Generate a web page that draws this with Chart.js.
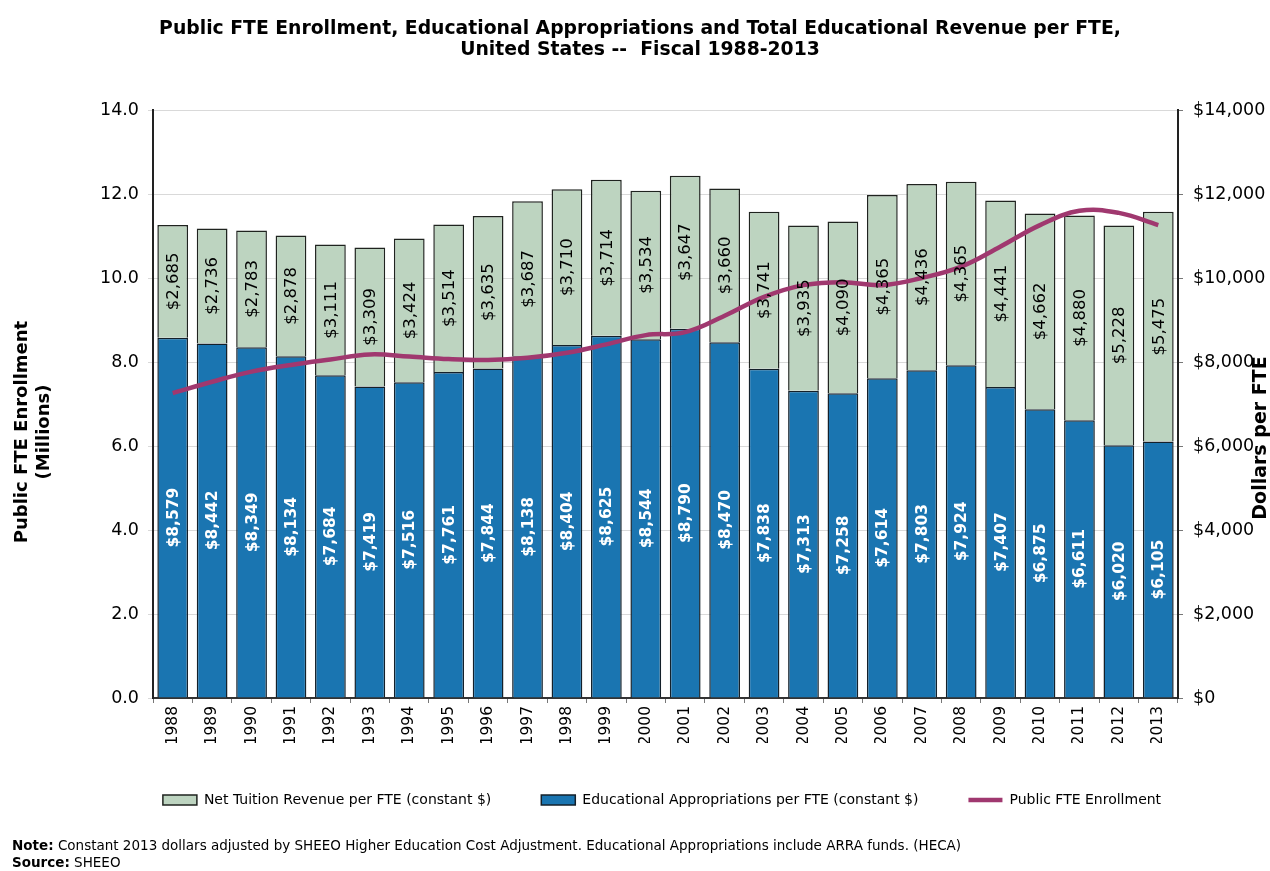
<!DOCTYPE html>
<html>
<head>
<meta charset="utf-8">
<title>Public FTE Enrollment and Educational Revenue</title>
<script src="https://cdn.jsdelivr.net/npm/chart.js@4/dist/chart.umd.min.js"></script>
<style>
    body { margin: 0; background: #fff; font-family: "DejaVu Sans", sans-serif; }
    #wrap { position: relative; width: 1270px; height: 871px; }
    .note { position: absolute; left: 12px; font-size: 13.5px; color: #000; white-space: nowrap; }
</style>
</head>
<body>
<div id="wrap">
    <canvas id="fteChart" width="1270" height="871"></canvas>
    <div class="note" style="top:837px"><b>Note:</b> Constant 2013 dollars adjusted by SHEEO Higher Education Cost Adjustment. Educational Appropriations include ARRA funds. (HECA)</div>
    <div class="note" style="top:854px"><b>Source:</b> SHEEO</div>
</div>
<script>
const years = ['1988', '1989', '1990', '1991', '1992', '1993', '1994', '1995', '1996', '1997', '1998', '1999', '2000',
    '2001', '2002', '2003', '2004', '2005', '2006', '2007', '2008', '2009', '2010', '2011', '2012', '2013'];
const appropriations = [8579, 8442, 8349, 8134, 7684, 7419, 7516, 7761, 7844, 8138, 8404, 8625, 8544,
    8790, 8470, 7838, 7313, 7258, 7614, 7803, 7924, 7407, 6875, 6611, 6020, 6105];
const tuition = [2685, 2736, 2783, 2878, 3111, 3309, 3424, 3514, 3635, 3687, 3710, 3714, 3534,
    3647, 3660, 3741, 3935, 4090, 4365, 4436, 4365, 4441, 4662, 4880, 5228, 5475];
// enrollment in millions
const enrollment = [7.26, 7.53, 7.77, 7.93, 8.06, 8.18, 8.13, 8.07, 8.05, 8.1, 8.22, 8.42, 8.64,
    8.71, 9.1, 9.55, 9.83, 9.9, 9.83, 10.0, 10.27, 10.75, 11.26, 11.6, 11.55, 11.26];

const titleLines = ['Public FTE Enrollment, Educational Appropriations and Total Educational Revenue per FTE,',
    'United States --  Fiscal 1988-2013'];
const fontFamily = '"DejaVu Sans", sans-serif';

const money = v => '$' + Number(v).toLocaleString('en-US');

// title, axis titles and the value labels inside the bars
const textPlugin = {
    id: 'texts',
    afterDatasetsDraw(chart) {
        const ctx = chart.ctx;
        ctx.save();
        ctx.textAlign = 'center';
        ctx.textBaseline = 'middle';
        [0, 1].forEach(di => {
            const meta = chart.getDatasetMeta(di);
            const values = chart.data.datasets[di].data;
            ctx.fillStyle = di === 0 ? '#fff' : '#000';
            ctx.font = di === 0 ? 'bold 15.5px ' + fontFamily : '16.5px ' + fontFamily;
            meta.data.forEach((bar, i) => {
                const cy = (bar.y + bar.base) / 2;
                ctx.save();
                ctx.translate(bar.x, cy);
                ctx.rotate(-Math.PI / 2);
                ctx.fillText(money(values[i]), 0, 1);
                ctx.restore();
            });
        });
        ctx.restore();
    },
    afterDraw(chart) {
        const ctx = chart.ctx;
        ctx.save();
        ctx.fillStyle = '#000';
        ctx.textAlign = 'center';
        ctx.textBaseline = 'middle';
        ctx.font = 'bold 18.8px ' + fontFamily;
        ctx.fillText(titleLines[0], 640, 29);
        ctx.fillText(titleLines[1], 640, 50);

        ctx.font = 'bold 18px ' + fontFamily;
        ctx.save();
        ctx.translate(22, 432);
        ctx.rotate(-Math.PI / 2);
        ctx.fillText('Public FTE Enrollment', 0, 0);
        ctx.fillText('(Millions)', 0, 22);
        ctx.restore();

        ctx.save();
        ctx.translate(1261, 438);
        ctx.rotate(-Math.PI / 2);
        ctx.font = 'bold 19px ' + fontFamily;
        ctx.fillText('Dollars per FTE', 0, 0);
        ctx.restore();
        ctx.restore();
    }
};

const legendRank = [1, 0, 2];

new Chart(document.getElementById('fteChart'), {
    type: 'bar',
    data: {
        labels: years,
        datasets: [{
            label: 'Educational Appropriations per FTE (constant $)',
            data: appropriations,
            backgroundColor: '#1a75b1',
            borderColor: '#14202a',
            borderWidth: 1.5,
            yAxisID: 'y2',
            stack: 'rev',
            order: 1,
            barPercentage: 0.78,
            categoryPercentage: 1
        }, {
            label: 'Net Tuition Revenue per FTE (constant $)',
            data: tuition,
            backgroundColor: '#bdd4c0',
            borderColor: '#1f231f',
            borderWidth: 1.5,
            yAxisID: 'y2',
            stack: 'rev',
            order: 1,
            barPercentage: 0.78,
            categoryPercentage: 1
        }, {
            type: 'line',
            label: 'Public FTE Enrollment',
            data: enrollment,
            borderColor: '#a0386f',
            backgroundColor: '#a0386f',
            borderWidth: 4.5,
            pointRadius: 0,
            tension: 0.4,
            yAxisID: 'y',
            order: 0
        }]
    },
    options: {
        responsive: false,
        animation: false,
        layout: { padding: { top: 110, left: 54, right: 0, bottom: 54 } },
        plugins: {
            tooltip: { enabled: false },
            legend: {
                position: 'bottom',
                labels: {
                    color: '#000',
                    font: { family: fontFamily, size: 14 },
                    usePointStyle: true,
                    pointStyleWidth: 34,
                    boxHeight: 10,
                    padding: 50,
                    generateLabels: chart => Chart.defaults.plugins.legend.labels.generateLabels(chart).map(l => {
                        l.pointStyle = l.datasetIndex === 2 ? 'line' : 'rect';
                        return l;
                    }),
                    sort: (a, b) => legendRank[a.datasetIndex] - legendRank[b.datasetIndex]
                }
            }
        },
        scales: {
            x: {
                stacked: true,
                grid: { display: true, drawOnChartArea: false, color: '#777', tickLength: 5, offset: true },
                border: { color: '#333', width: 2 },
                ticks: { color: '#000', minRotation: 90, maxRotation: 90, font: { family: fontFamily, size: 15.5 } },
                afterFit: s => { s.height = 45; }
            },
            y: {
                position: 'left',
                min: 0,
                max: 14,
                grid: { color: '#d9d9d9', tickLength: 5 },
                border: { color: '#222', width: 2 },
                ticks: {
                    stepSize: 2,
                    color: '#000',
                    padding: 9,
                    font: { family: fontFamily, size: 17.5 },
                    callback: v => v.toFixed(1)
                },
                afterFit: s => { s.width = 99; }
            },
            y2: {
                position: 'right',
                stacked: true,
                min: 0,
                max: 14000,
                grid: { drawOnChartArea: false, color: '#777', tickLength: 5 },
                border: { color: '#222', width: 2 },
                ticks: {
                    stepSize: 2000,
                    color: '#000',
                    padding: 10,
                    font: { family: fontFamily, size: 17.5 },
                    callback: v => money(v)
                },
                afterFit: s => { s.width = 92; }
            }
        }
    },
    plugins: [textPlugin]
});
</script>
</body>
</html>
